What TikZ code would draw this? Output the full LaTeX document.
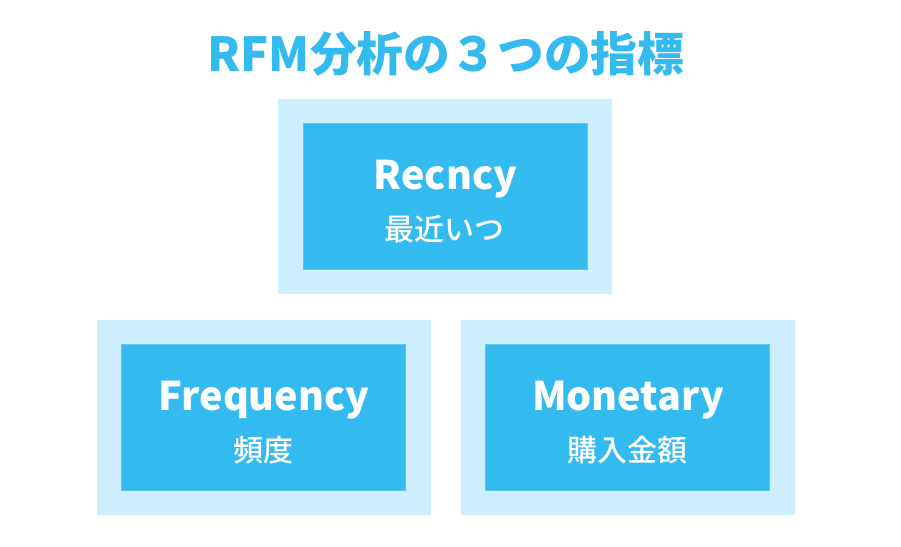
\documentclass[tikz,border=0pt]{standalone}
\usepackage{fontspec}
\setmainfont{Noto Sans CJK JP}[BoldFont={Noto Sans CJK JP Bold}]
\newfontfamily\heavyfont{Noto Sans CJK JP Black}
\newfontfamily\medfont{Noto Sans CJK JP Medium}
\definecolor{mainblue}{HTML}{33BAEE}
\definecolor{edgeblue}{HTML}{5CC8F2}
\definecolor{paleblue}{HTML}{CDEFFD}
\begin{document}
\begin{tikzpicture}[x=1pt,y=-1pt,
  outerbox/.style={fill=paleblue, draw=none, inner sep=0pt, minimum width=334pt, minimum height=195pt},
  innerbox/.style={fill=mainblue, draw=edgeblue, line width=0.8pt, inner sep=0pt, minimum width=284pt, minimum height=146pt},
  entext/.style={text=white, anchor=base, inner sep=0pt, font=\fontsize{39.5}{39.5}\selectfont\heavyfont},
  jptext/.style={text=white, inner sep=0pt, font=\fontsize{30}{30}\selectfont\medfont},
  titletext/.style={text=mainblue, inner sep=0pt, font=\fontsize{46.8}{46.8}\selectfont\heavyfont}]
\useasboundingbox[fill=white] (0,0) rectangle (901,546);
\node[titletext] (title) at (446,54) {RFM分析の３つの指標};
% top
\node[outerbox] (rOut) at (445,196.5) {};
\node[innerbox] (rIn) at (445,196.5) {};
\node[entext] (rEn) at (445.5,189) {Recncy};
\node[jptext] (rJp) at (444.5,229) {最近いつ};
% bottom left
\node[outerbox] (fOut) at (263.5,417.5) {};
\node[innerbox] (fIn) at (263,417.5) {};
\node[entext] (fEn) at (264,410) {Frequency};
\node[jptext] (fJp) at (263,450) {頻度};
% bottom right
\node[outerbox] (mOut) at (627.5,417.5) {};
\node[innerbox] (mIn) at (627.5,417.5) {};
\node[entext] (mEn) at (628,410) {Monetary};
\node[jptext] (mJp) at (627.5,450) {購入金額};
\end{tikzpicture}
\end{document}
